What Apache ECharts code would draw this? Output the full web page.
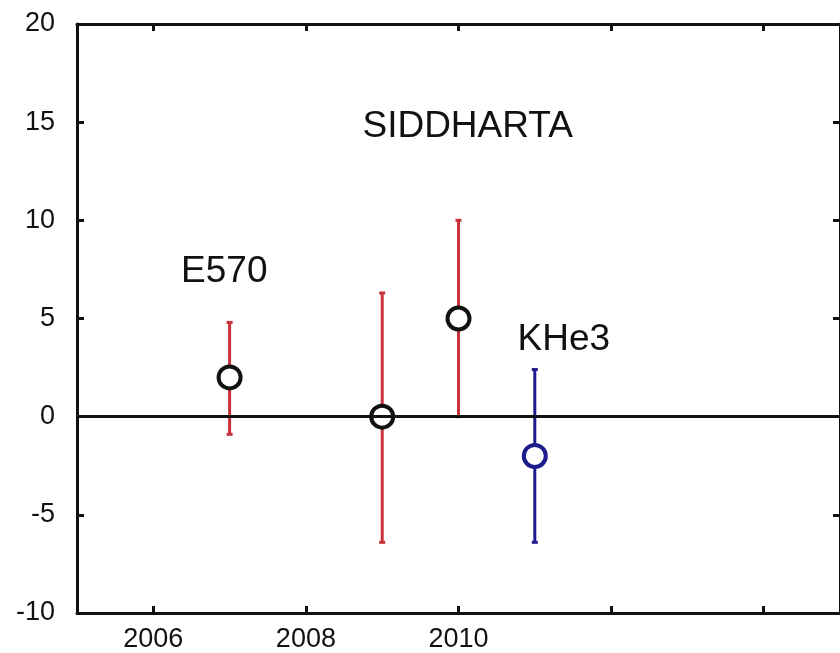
<!DOCTYPE html>
<html>
<head>
<meta charset="utf-8">
<script src="https://cdn.jsdelivr.net/npm/echarts@6/dist/echarts.min.js"></script>
<style>
html,body{margin:0;padding:0;background:#fff;}
#chart{width:840px;height:653px;}
</style>
</head>
<body>
<div id="chart"></div>
<script>
// Data
const xTicks = [2006, 2008, 2010, 2012, 2014];
const xTickLabels = [2006, 2008, 2010];
const yTicks = [-10, -5, 0, 5, 10, 15, 20];

const redYears = [2007, 2009, 2010];
const redValues = [2, 0, 5];
const redHigh = [4.8, 6.3, 10];
const redLow = [-0.9, -6.4, 0];

const blueYears = [2011];
const blueValues = [-2];
const blueHigh = [2.4];
const blueLow = [-6.4];

const annotationNames = ['SIDDHARTA', 'E570', 'KHe3'];
const annotationX = [2010.12, 2006.93, 2011.38];
const annotationY = [14.75, 7.4, 3.9];

const RED = '#c8323a';
const BLUE = '#1c1c8c';
const FONT = 'Liberation Sans, Arial, sans-serif';

function errData(xs, lo, hi) {
  return xs.map((x, i) => [x, lo[i], hi[i]]);
}
function pointData(xs, vs) {
  return xs.map((x, i) => [x, vs[i]]);
}
function errRender(color) {
  return function (params, api) {
    const x = api.value(0);
    const lo = api.coord([x, api.value(1)]);
    const hi = api.coord([x, api.value(2)]);
    const cap = 3;
    const style = { stroke: color, lineWidth: 3 };
    return {
      type: 'group',
      children: [
        { type: 'line', shape: { x1: lo[0], y1: lo[1], x2: hi[0], y2: hi[1] }, style: style },
        { type: 'line', shape: { x1: hi[0] - cap, y1: hi[1], x2: hi[0] + cap, y2: hi[1] }, style: style },
        { type: 'line', shape: { x1: lo[0] - cap, y1: lo[1], x2: lo[0] + cap, y2: lo[1] }, style: style }
      ]
    };
  };
}

const axisLineStyle = { color: '#111', width: 3 };
const tickStyle = { color: '#111', width: 3 };

const chart = echarts.init(document.getElementById('chart'));
chart.setOption({
  animation: false,
  backgroundColor: '#ffffff',
  grid: { left: 77, top: 24, width: 770, height: 589, containLabel: false },
  xAxis: [
    {
      type: 'value', position: 'bottom', min: 2005, max: 2015, interval: 1,
      axisLine: { show: true, lineStyle: axisLineStyle, onZero: false },
      axisTick: { show: true, inside: true, length: 7, lineStyle: tickStyle, customValues: xTicks },
      axisLabel: { show: true, customValues: xTickLabels, formatter: v => String(v), fontSize: 27, color: '#111', fontFamily: FONT, margin: 13 },
      splitLine: { show: false }
    },
    {
      type: 'value', position: 'top', min: 2005, max: 2015, interval: 1,
      axisLine: { show: true, lineStyle: axisLineStyle, onZero: false },
      axisTick: { show: true, inside: true, length: 7, lineStyle: tickStyle, customValues: xTicks },
      axisLabel: { show: false },
      splitLine: { show: false }
    }
  ],
  yAxis: [
    {
      type: 'value', position: 'left', min: -10, max: 20, interval: 5,
      axisLine: { show: true, lineStyle: axisLineStyle, onZero: false },
      axisTick: { show: true, inside: true, length: 7, lineStyle: tickStyle, customValues: yTicks },
      axisLabel: { show: true, customValues: yTicks, formatter: v => String(v), fontSize: 27, color: '#111', fontFamily: FONT, margin: 22 },
      splitLine: { show: false }
    },
    {
      type: 'value', position: 'right', min: -10, max: 20, interval: 5,
      axisLine: { show: true, lineStyle: axisLineStyle, onZero: false },
      axisTick: { show: true, inside: true, length: 7, lineStyle: tickStyle },
      axisLabel: { show: false },
      splitLine: { show: false }
    }
  ],
  series: [
    {
      name: 'zero', type: 'line', data: [], xAxisIndex: 0, yAxisIndex: 0,
      markLine: {
        silent: true, symbol: 'none', label: { show: false },
        lineStyle: { color: '#111', width: 3, type: 'solid' },
        data: [{ yAxis: 0 }]
      }
    },
    {
      name: 'redErr', type: 'custom', xAxisIndex: 0, yAxisIndex: 0,
      renderItem: errRender(RED), data: errData(redYears, redLow, redHigh), z: 3
    },
    {
      name: 'blueErr', type: 'custom', xAxisIndex: 0, yAxisIndex: 0,
      renderItem: errRender(BLUE), data: errData(blueYears, blueLow, blueHigh), z: 3
    },
    {
      name: 'red', type: 'scatter', xAxisIndex: 0, yAxisIndex: 0, symbol: 'circle', symbolSize: 22,
      itemStyle: { color: '#fff', borderColor: '#111', borderWidth: 4, opacity: 1 },
      data: pointData(redYears, redValues), z: 4
    },
    {
      name: 'blue', type: 'scatter', xAxisIndex: 0, yAxisIndex: 0, symbol: 'circle', symbolSize: 22,
      itemStyle: { color: '#fff', borderColor: BLUE, borderWidth: 4, opacity: 1 },
      data: pointData(blueYears, blueValues), z: 4
    },
    {
      name: 'labels', type: 'scatter', xAxisIndex: 0, yAxisIndex: 0, symbolSize: 0, silent: true,
      itemStyle: { opacity: 1 },
      label: { show: true, position: 'inside', formatter: '{b}', fontSize: 37, color: '#111', opacity: 1, fontFamily: FONT, textBorderWidth: 0 },
      data: annotationNames.map((n, i) => ({ name: n, value: [annotationX[i], annotationY[i]] })), z: 5
    }
  ]
});
</script>
</body>
</html>
